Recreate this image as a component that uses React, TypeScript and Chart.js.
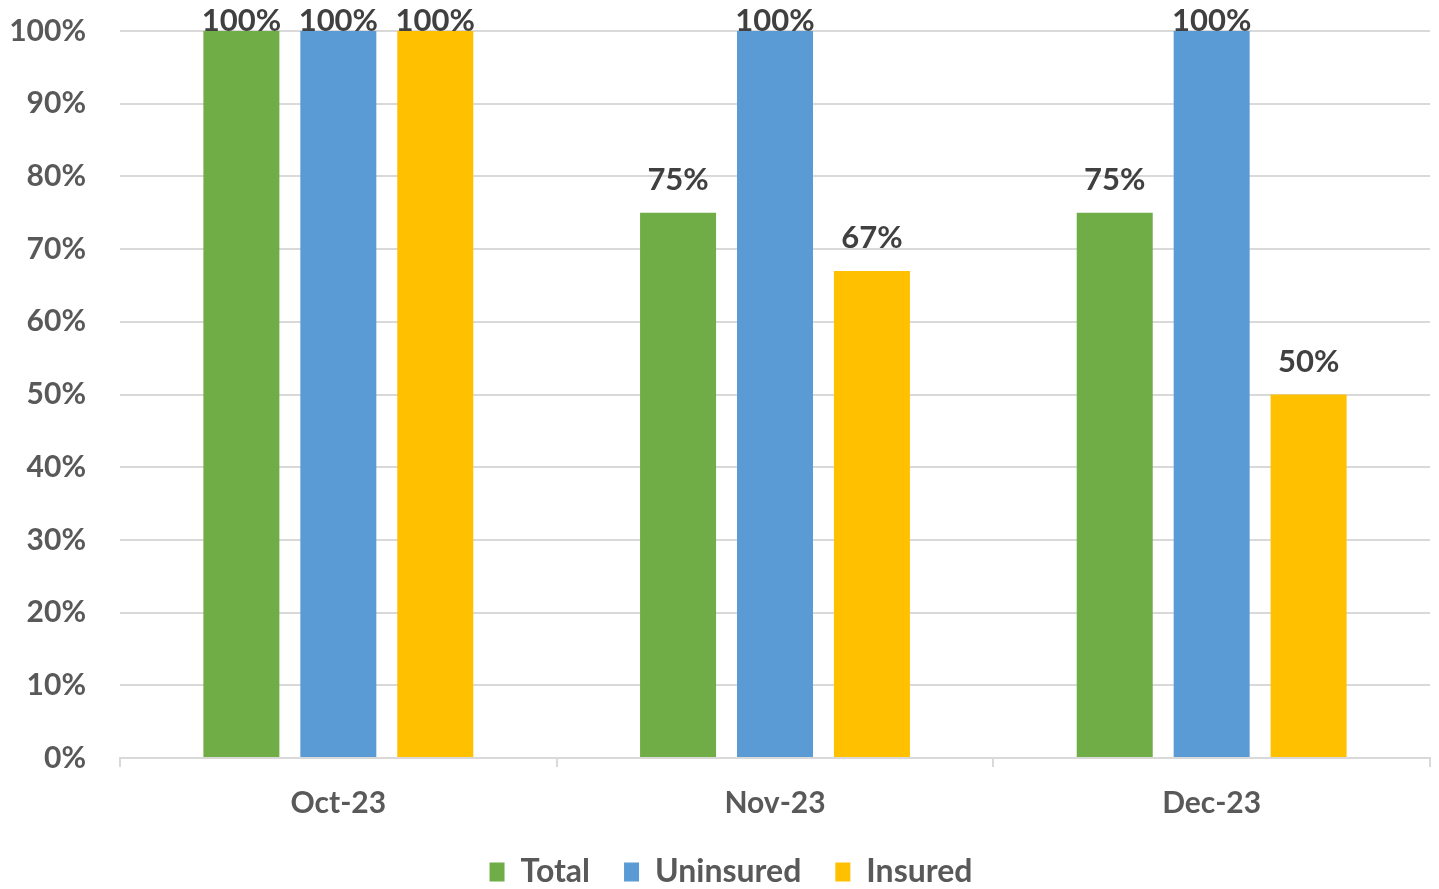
import { Chart, registerables, Plugin } from 'chart.js'
import { useEffect, useRef } from 'react'

Chart.register(...registerables)

const MONTHS = ['Oct-23', 'Nov-23', 'Dec-23']
const TOTAL = [100, 75, 75]
const UNINSURED = [100, 100, 100]
const INSURED = [100, 67, 50]

const C_TOTAL = '#70ad47'
const C_UNINS = '#5b9bd5'
const C_INS = '#ffc000'
const FONT = 'Lato, "Open Sans", sans-serif'

const barLabels: Plugin<'bar'> = {
  id: 'barLabels',
  afterDatasetsDraw(chart) {
    const { ctx } = chart
    ctx.save()
    ctx.font = `bold 31px ${FONT}`
    ctx.fillStyle = '#404040'
    ctx.textAlign = 'center'
    ctx.textBaseline = 'middle'
    chart.data.datasets.forEach((ds, i) => {
      chart.getDatasetMeta(i).data.forEach((bar, j) => {
        const v = ds.data[j] as number
        const y = Math.max(bar.y - 33, 21)
        ctx.fillText(`${v}%`, bar.x, y)
      })
    })
    ctx.restore()
  },
}

// nudge the legend a little to the right, like the original
const legendShift: Plugin<'bar'> = {
  id: 'legendShift',
  afterLayout(chart) {
    if (chart.legend) chart.legend.left = 32
  },
}

export default function App() {
  const canvasRef = useRef<HTMLCanvasElement | null>(null)

  useEffect(() => {
    if (!canvasRef.current) return undefined
    document.body.style.margin = '0'
    const common = { barPercentage: 0.784, categoryPercentage: 0.666 }
    const chart = new Chart(canvasRef.current, {
      type: 'bar',
      data: {
        labels: MONTHS,
        datasets: [
          { label: 'Total', data: TOTAL, backgroundColor: C_TOTAL, ...common },
          { label: 'Uninsured', data: UNINSURED, backgroundColor: C_UNINS, ...common },
          { label: 'Insured', data: INSURED, backgroundColor: C_INS, ...common },
        ],
      },
      options: {
        animation: false,
        responsive: true,
        maintainAspectRatio: false,
        layout: { padding: { top: 31, right: 9, left: 0, bottom: -9 } },
        plugins: {
          tooltip: { enabled: false },
          legend: {
            position: 'bottom',
            labels: {
              color: '#595959',
              font: { family: FONT, size: 32, weight: 'bold' },
              boxWidth: 15,
              boxHeight: 19,
              padding: 34,
            },
          },
        },
        scales: {
          x: {
            grid: {
              display: true,
              drawOnChartArea: false,
              offset: true,
              tickLength: 9,
              color: '#d9d9d9',
              lineWidth: 2,
            },
            border: { color: '#d9d9d9', width: 2 },
            ticks: {
              color: '#595959',
              font: { family: FONT, size: 30, weight: 'bold' },
              padding: 18,
            },
            afterFit: (scale) => {
              scale.height = 64
              scale.paddingLeft = 0
              scale.paddingRight = 0
            },
          },
          y: {
            min: 0,
            max: 100,
            grid: { color: '#d9d9d9', lineWidth: 2, drawTicks: false },
            border: { display: false },
            ticks: {
              stepSize: 10,
              color: '#595959',
              padding: 34,
              font: { family: FONT, size: 30, weight: 'bold' },
              callback: (v) => `${v}%`,
            },
            afterFit: (scale) => {
              scale.width = 120
              scale.paddingTop = 0
              scale.paddingBottom = 0
            },
          },
        },
      },
      plugins: [barLabels, legendShift],
    })
    return () => chart.destroy()
  }, [])

  return (
    <div style={{ position: 'relative', width: 1439, height: 889 }}>
      <canvas ref={canvasRef} />
    </div>
  )
}
